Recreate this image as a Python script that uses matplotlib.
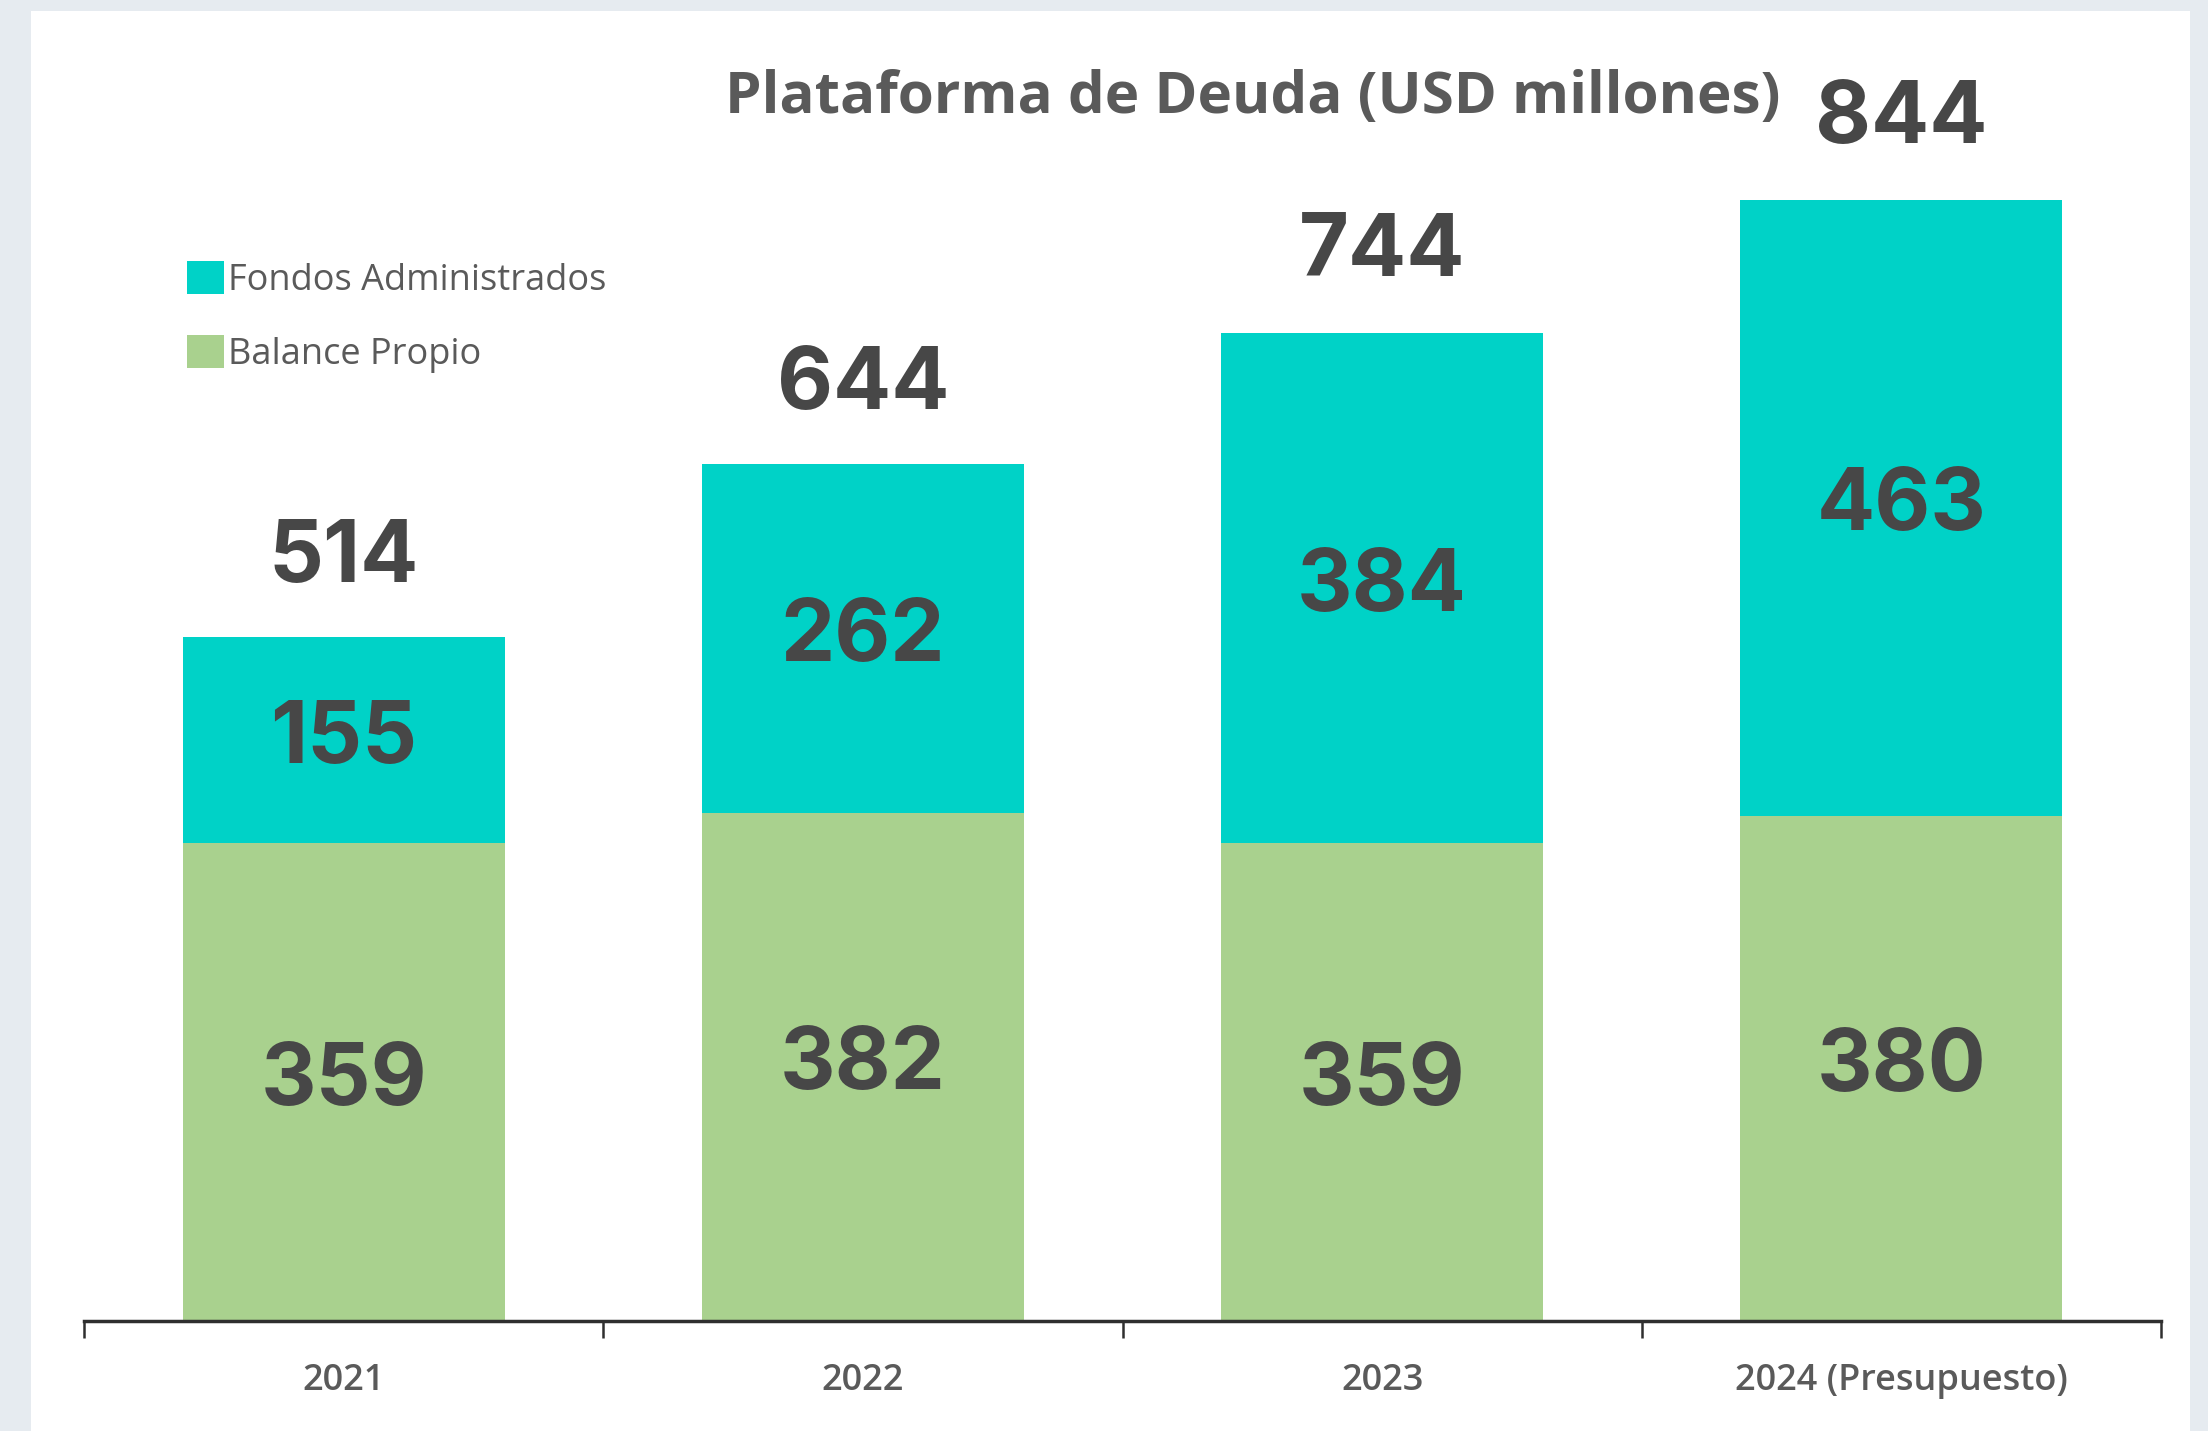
import matplotlib
matplotlib.use("Agg")
import matplotlib.pyplot as plt
from matplotlib.patches import Rectangle, Patch
import numpy as np

categories = ["2021", "2022", "2023", "2024 (Presupuesto)"]
balance_propio = [359, 382, 359, 380]
fondos_admin = [155, 262, 384, 463]
totals = [514, 644, 744, 844]

GREEN = "#A9D18E"
TEAL = "#00D2C7"
TXT = "#474747"
GRAY = "#5a5a5a"

fig = plt.figure(figsize=(22.08, 14.31), dpi=100)
fig.patch.set_facecolor("#e6ebf0")
bg = Rectangle((31/2208, 0), (2190-31)/2208, 1 - 11/1431,
               transform=fig.transFigure, facecolor="white",
               edgecolor="none", zorder=-10)
fig.patches.append(bg)

ax = fig.add_axes([84/2208, 1 - 1321/1431, (2161-84)/2208, (1321-40)/1431])
ax.set_facecolor("none")
x = np.arange(len(categories))
w = 0.62
ax.bar(x, balance_propio, w, color=GREEN, zorder=2)
ax.bar(x, fondos_admin, w, bottom=balance_propio, color=TEAL, zorder=2)

ax.set_xlim(-0.5, 3.5)
ax.set_ylim(0, 963)

for s in ["top", "right", "left"]:
    ax.spines[s].set_visible(False)
ax.spines["bottom"].set_color("#2f2f2f")
ax.spines["bottom"].set_linewidth(2.5)
ax.set_yticks([])
ax.set_xticks(x)
ax.set_xticklabels(categories, fontsize=26, color=GRAY, family="Open Sans",
                   fontweight="semibold")
ax.tick_params(axis="x", which="major", length=0, pad=30)
ax.set_xticks(np.arange(-0.5, 4.0, 1.0), minor=True)
ax.tick_params(axis="x", which="minor", length=12, width=1.8, color="#2f2f2f")

numfont = dict(family="Inter", fontweight="bold", fontsize=62, color=TXT)
for i in range(len(categories)):
    ax.text(x[i], balance_propio[i] / 2, str(balance_propio[i]),
            ha="center", va="center", zorder=3, **numfont)
    ax.text(x[i], balance_propio[i] + fondos_admin[i] / 2, str(fondos_admin[i]),
            ha="center", va="center", zorder=3, **numfont)
    ax.annotate(str(totals[i]), (x[i], totals[i]), xytext=(0, 56),
                textcoords="offset points", ha="center", va="center",
                zorder=3, **numfont)

fig.text(1253/2208, 1 - 98/1431, "Plataforma de Deuda (USD millones)",
         ha="center", va="center", fontsize=42, fontweight="bold",
         color=GRAY, family="Open Sans")

handles = [Patch(facecolor=TEAL, edgecolor="none", label="Fondos Administrados"),
           Patch(facecolor=GREEN, edgecolor="none", label="Balance Propio")]
fig.legend(handles=handles, loc="upper left",
           bbox_to_anchor=(154/2208, 1 - 228/1431), frameon=False,
           labelcolor=GRAY, handlelength=1.05, handleheight=1.05,
           handletextpad=0.1, labelspacing=1.0,
           prop=dict(family="Open Sans", size=26))

fig.savefig("out.png", dpi=100, facecolor=fig.get_facecolor())
